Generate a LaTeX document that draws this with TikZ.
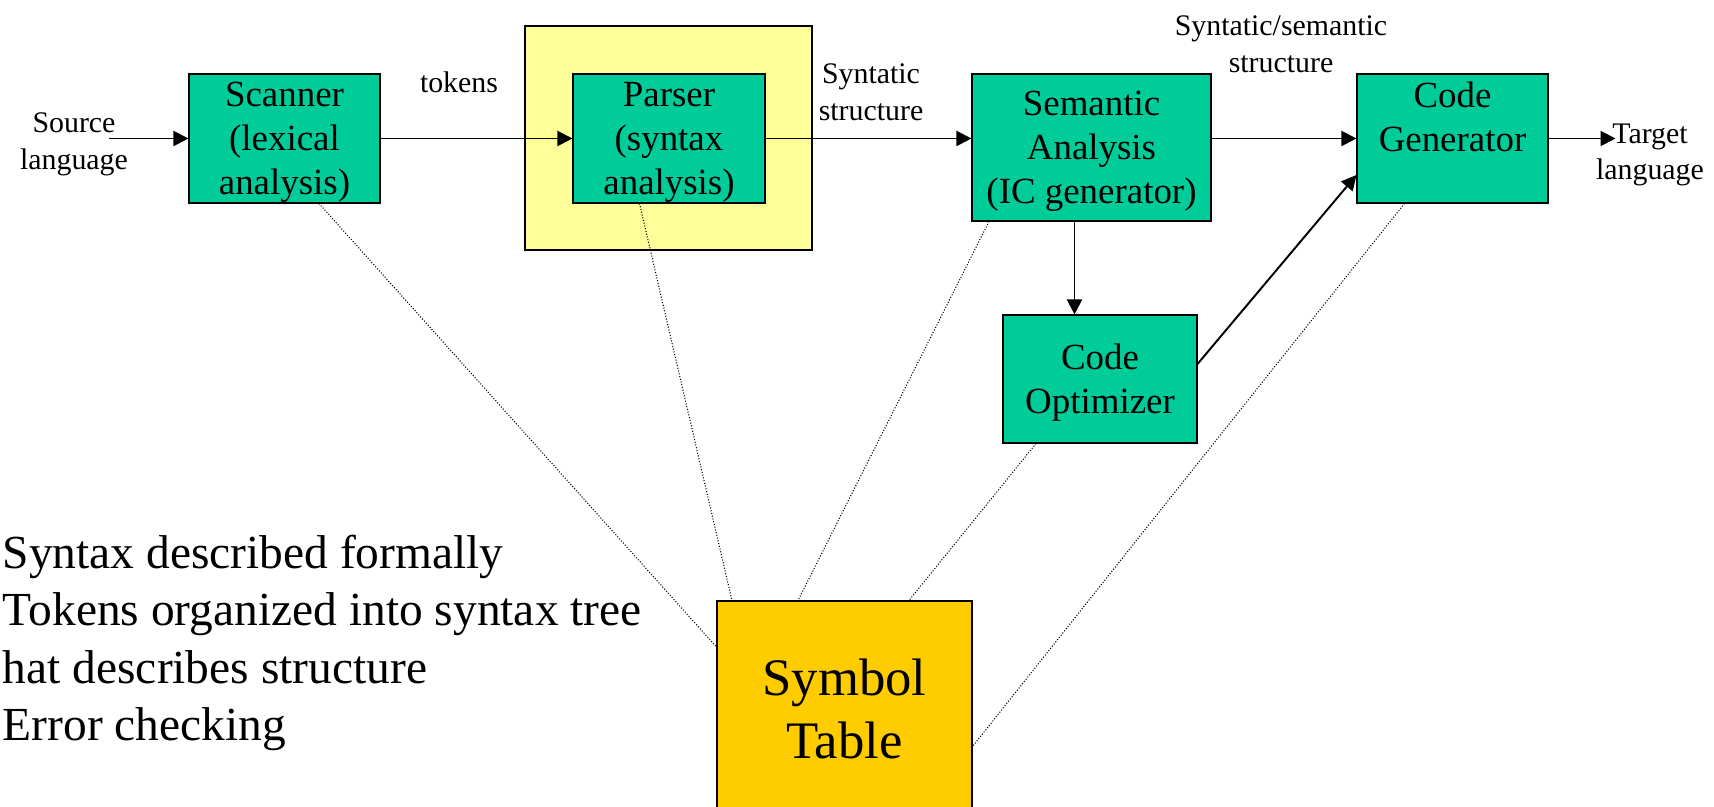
\documentclass[tikz,border=0pt]{standalone}
\usepackage{fontspec}
\setmainfont{Liberation Serif}
\usetikzlibrary{arrows.meta}
\definecolor{stagegreen}{RGB}{0,204,153}
\definecolor{parsehl}{RGB}{255,255,153}
\definecolor{symyellow}{RGB}{255,204,0}
\begin{document}
\begin{tikzpicture}[
    stage/.style={draw, fill=stagegreen, line width=0.6pt, minimum width=3.82cm, minimum height=2.58cm,
      align=center, inner sep=1pt, text depth=-2.9pt, font=\fontsize{21}{25}\selectfont},
    flow/.style={-{Triangle[length=3mm,width=3mm]}, line width=1.1pt},
    lookup/.style={densely dotted, line width=0.6pt},
    lbl/.style={align=center, inner sep=0pt, font=\fontsize{17}{21}\selectfont}]
    \useasboundingbox (0,0) rectangle (34.28,16.14);
    % parser highlight
    \node[draw, fill=parsehl, line width=0.6pt, minimum width=5.74cm, minimum height=4.48cm] (hl) at (13.37,13.38) {};
    \node[stage] (scan) at (5.69,13.37) {Scanner\\(lexical\\analysis)};
    \node[stage, minimum width=3.84cm] (parse) at (13.38,13.37) {Parser\\(syntax\\analysis)};
    \node[stage, minimum width=4.78cm, minimum height=2.94cm] (sem) at (21.83,13.19) {Semantic\\Analysis\\(IC generator)};
    \node[stage] (gen) at (29.05,13.37) {Code\\Generator\\~};
    \node[stage, minimum width=3.88cm, minimum height=2.56cm] (opt) at (22.0,8.56) {Code\\Optimizer};
    \node[draw, fill=symyellow, line width=0.6pt, minimum width=5.1cm, minimum height=4.32cm, align=center,
      font=\fontsize{30}{36}\selectfont] (sym) at (16.89,1.96) {Symbol\\Table};
    % labels
    \node[lbl] (srclbl) at (1.48,13.26) {Source\\language};
    \node[lbl] (tgtlbl) at (33.0,13.04) {Target\\language};
    \node[lbl] (toklbl) at (9.18,14.5) {tokens};
    \node[lbl] (synlbl) at (17.42,14.3) {Syntatic\\structure};
    \node[lbl] (semlbl) at (25.62,15.26) {Syntatic/semantic\\structure};
    \coordinate (srcin) at (2.18,13.37);
    \coordinate (tgtout) at (32.31,13.37);
    % main flow
    \draw[flow] (srcin) -- (scan.west);
    \draw[flow] (scan.east) -- (parse.west);
    \draw[flow] (parse.east) -- (parse.east -| sem.west);
    \draw[flow] (parse.east -| sem.east) -- (gen.west);
    \draw[flow] (gen.east) -- (tgtout);
    \draw[flow] ([xshift=-3.4mm]sem.south) -- ([xshift=-3.4mm]sem.south |- opt.north);
    \draw[flow] ([yshift=3mm]opt.east) -- ([yshift=-7.3mm]gen.west);
    % symbol table lookups
    \draw[lookup] ([xshift=6.9mm]scan.south) -- ([yshift=12.4mm]sym.west);
    \draw[lookup] ([xshift=-5.9mm]parse.south) -- ([xshift=-22.5mm]sym.north);
    \draw[lookup] ([xshift=-20.5mm]sem.south) -- ([xshift=-9.3mm]sym.north);
    \draw[lookup] ([xshift=-12.8mm]opt.south) -- ([xshift=12.9mm]sym.north);
    \draw[lookup] ([xshift=-9.6mm]gen.south) -- ([yshift=-7.5mm]sym.east);
    % notes
    \node[anchor=west, align=left, inner sep=0pt, font=\fontsize{27}{32.6}\selectfont] (notes) at (0.05,3.28)
      {Syntax described formally\\Tokens organized into syntax tree\\hat describes structure\\Error checking};
\end{tikzpicture}
\end{document}
